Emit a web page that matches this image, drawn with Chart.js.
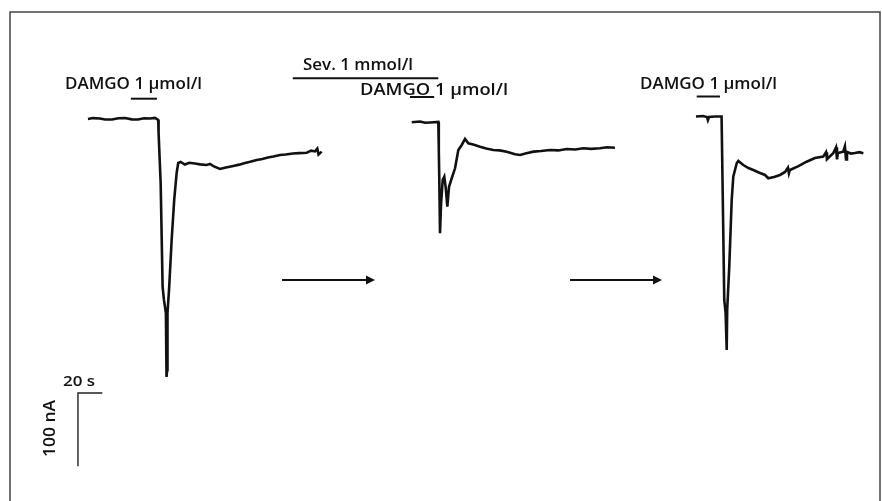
<!DOCTYPE html>
<html>
<head>
<meta charset="utf-8">
<script src="https://cdn.jsdelivr.net/npm/chart.js@4/dist/chart.umd.min.js"></script>
<style>
  html, body { margin: 0; padding: 0; background: #fff; }
  #wrap { position: relative; width: 882px; height: 501px; }
</style>
</head>
<body>
<div id="wrap"><canvas id="traces" width="882" height="501"></canvas></div>
<script>
// sweep 1: DAMGO 1 umol/l (time in s from sweep start, current in nA)
var trace1Time = [0, 4, 9.8, 14, 19.7, 25, 30.3, 36, 41, 46, 50.8, 55, 57.6, 57.9, 59.6, 61.2, 62.3, 63.9, 64.4, 64.9, 65.2, 66.6, 68.6, 70.7, 72.7, 74.0, 76, 79.5, 83, 87.7, 92, 97.3, 100, 103.3, 108.2, 113.1, 119.1, 124, 128.7, 133, 138.3, 143, 147.5, 152, 157.4, 162, 168.0, 173, 179.3, 183, 186.1, 188, 189, 191.6];
var trace1Current = [0, 1.2, 0.7, -0.8, -0.7, 1.0, 1.4, -0.5, -0.7, 0.9, 0.7, 1.5, -1.4, -19.1, -87.3, -229.2, -246.9, -264.7, -352, -342.4, -264.7, -229.2, -165.1, -110.5, -73.7, -60, -58.5, -62.1, -59.8, -60.7, -61.9, -62.8, -61.2, -64.8, -68.2, -66.2, -64.1, -62.3, -60, -58.4, -56, -54.6, -52.5, -51.1, -49.1, -48.5, -47.1, -46.6, -46, -43.2, -44.3, -40.5, -48.5, -44.6];

// sweep 2: sevoflurane 1 mmol/l + DAMGO 1 umol/l
var trace2Time = [0, 6.8, 11, 15.0, 21.8, 22.2, 22.6, 23.2, 24.0, 25.4, 26.7, 27.9, 29.2, 30.6, 32.8, 35.5, 38.2, 41.0, 43.7, 46.4, 51, 56.0, 61, 66.9, 72, 77.9, 84.7, 88.8, 94, 99.8, 106, 113.4, 120, 127.1, 134, 140.7, 147, 154.3, 160, 166.6];
var trace2Current = [-4.5, -3.4, -5.2, -4.8, -4.1, -42.3, -83.2, -155.9, -117.3, -83.2, -78.7, -94.1, -119.6, -92.4, -80.9, -67.3, -42.3, -35.5, -27.3, -33.2, -35.1, -37.8, -40.2, -42.3, -42.9, -44.6, -48.2, -49.1, -46.8, -44.6, -43.8, -42.3, -42.9, -40.9, -41.6, -40, -40.8, -40, -38.6, -39.2];

// sweep 3: DAMGO 1 umol/l after washout
var trace3Time = [0, 5.7, 9.0, 9.8, 10.7, 15.6, 21.0, 21.6, 22.4, 23.2, 24.3, 25.2, 25.6, 27.3, 29.3, 30.6, 33.4, 34.7, 38.8, 43, 47.0, 52, 56.6, 59.3, 64, 68.9, 73.0, 75.4, 76.2, 77.0, 84, 90.7, 97.5, 104.3, 106.6, 107.4, 112.5, 114.8, 115.6, 116.4, 120.7, 122.1, 123.0, 123.8, 127, 130.3, 134, 137.2];
var trace3Current = [3.4, 4.1, 2.7, -1.5, 2.7, 3.4, 3.4, -65.1, -155.5, -246.9, -264.7, -315.1, -260.6, -201.5, -110.5, -78.7, -60.4, -57.3, -62.8, -67, -69.6, -73.4, -76.4, -80.9, -79.2, -76.4, -72.3, -66.5, -74.1, -69.6, -64.3, -58.3, -53.2, -51.4, -45.3, -54.9, -46.8, -38.7, -55, -46.4, -44.6, -37.4, -55.4, -45, -47.2, -46.4, -45.3, -46.8];

// start of each sweep on the shared time axis (s)
var traceStart = [72.1, 337.5, 570.5];

// calibration: 20 s, 100 nA
var scaleBarTime = [83.9, 63.9, 63.9];
var scaleBarCurrent = [-373.9, -373.9, -473.9];

// drug application bars, sweep-relative seconds [sweep, from, to]
var damgoBars = [[0, 35.2, 56.6], [1, -1.4, 18.4], [2, 0.6, 19.7]];
var sevBar = [1, -97.5, 21.8];

function toPoints(start, times, values) {
  var pts = [];
  for (var i = 0; i < times.length; i++) pts.push({ x: start + times[i], y: values[i] });
  return pts;
}

function fitText(ctx, text, left, right, baseline, size) {
  ctx.font = "600 " + size + "px 'Open Sans'";
  var w = ctx.measureText(text).width;
  ctx.save();
  ctx.translate(left, baseline);
  ctx.scale((right - left) / w, 1);
  ctx.textBaseline = "alphabetic";
  ctx.fillText(text, 0, 0);
  ctx.restore();
}

function arrow(ctx, x1, x2, y) {
  ctx.beginPath();
  ctx.moveTo(x1, y);
  ctx.lineTo(x2 - 6, y);
  ctx.stroke();
  ctx.beginPath();
  ctx.moveTo(x2 - 9, y - 4.5);
  ctx.lineTo(x2, y);
  ctx.lineTo(x2 - 9, y + 4.5);
  ctx.closePath();
  ctx.fill();
}

var figureLabels = {
  id: "figureLabels",
  afterDatasetsDraw: function (chart) {
    var ctx = chart.ctx;
    var xs = chart.scales.x;
    ctx.save();
    ctx.fillStyle = "#111";

    // frame
    ctx.lineWidth = 1.5;
    ctx.strokeStyle = "#444";
    ctx.strokeRect(10, 12, 870, 500);
    ctx.strokeStyle = "#111";

    // labels
    fitText(ctx, "DAMGO 1 µmol/l", 65, 202, 88.5, 16.5);
    fitText(ctx, "Sev. 1 mmol/l", 303, 413, 70, 16.5);
    fitText(ctx, "DAMGO 1 µmol/l", 360, 508, 95, 16.5);
    fitText(ctx, "DAMGO 1 µmol/l", 640, 777, 88.5, 16.5);
    fitText(ctx, "20 s", 63, 95, 386, 15);
    ctx.save();
    ctx.translate(55, 457);
    ctx.rotate(-Math.PI / 2);
    fitText(ctx, "100 nA", 0, 57, 0, 16);
    ctx.restore();

    // application bars
    ctx.lineWidth = 2;
    var barY = [98.7, 97, 96.5];
    damgoBars.forEach(function (b, i) {
      ctx.beginPath();
      ctx.moveTo(xs.getPixelForValue(traceStart[b[0]] + b[1]), barY[i]);
      ctx.lineTo(xs.getPixelForValue(traceStart[b[0]] + b[2]), barY[i]);
      ctx.stroke();
    });
    ctx.beginPath();
    ctx.moveTo(xs.getPixelForValue(traceStart[sevBar[0]] + sevBar[1]), 78.3);
    ctx.lineTo(xs.getPixelForValue(traceStart[sevBar[0]] + sevBar[2]), 78.3);
    ctx.stroke();

    // arrows between sweeps
    ctx.lineWidth = 2.2;
    arrow(ctx, 282, 375, 280);
    arrow(ctx, 570, 662, 280);
    ctx.restore();
  }
};

var traceStyle = { borderColor: "#111", borderWidth: 2.6, pointRadius: 0, tension: 0, fill: false };

var config = {
  type: "line",
  data: {
    datasets: [
      Object.assign({ label: "DAMGO", data: toPoints(traceStart[0], trace1Time, trace1Current) }, traceStyle),
      Object.assign({ label: "Sev. + DAMGO", data: toPoints(traceStart[1], trace2Time, trace2Current) }, traceStyle),
      Object.assign({ label: "DAMGO washout", data: toPoints(traceStart[2], trace3Time, trace3Current) }, traceStyle),
      { label: "scale", data: toPoints(0, scaleBarTime, scaleBarCurrent), borderColor: "#222", borderWidth: 1.4, pointRadius: 0, tension: 0, fill: false }
    ]
  },
  options: {
    responsive: false,
    animation: false,
    devicePixelRatio: 1,
    layout: { padding: 0 },
    plugins: { legend: { display: false }, tooltip: { enabled: false } },
    scales: {
      x: { type: "linear", min: 0, max: 723, display: false },
      y: { type: "linear", min: -521.2, max: 162.3, display: false }
    }
  },
  plugins: [figureLabels]
};

var chart = new Chart(document.getElementById("traces"), config);
</script>
</body>
</html>
